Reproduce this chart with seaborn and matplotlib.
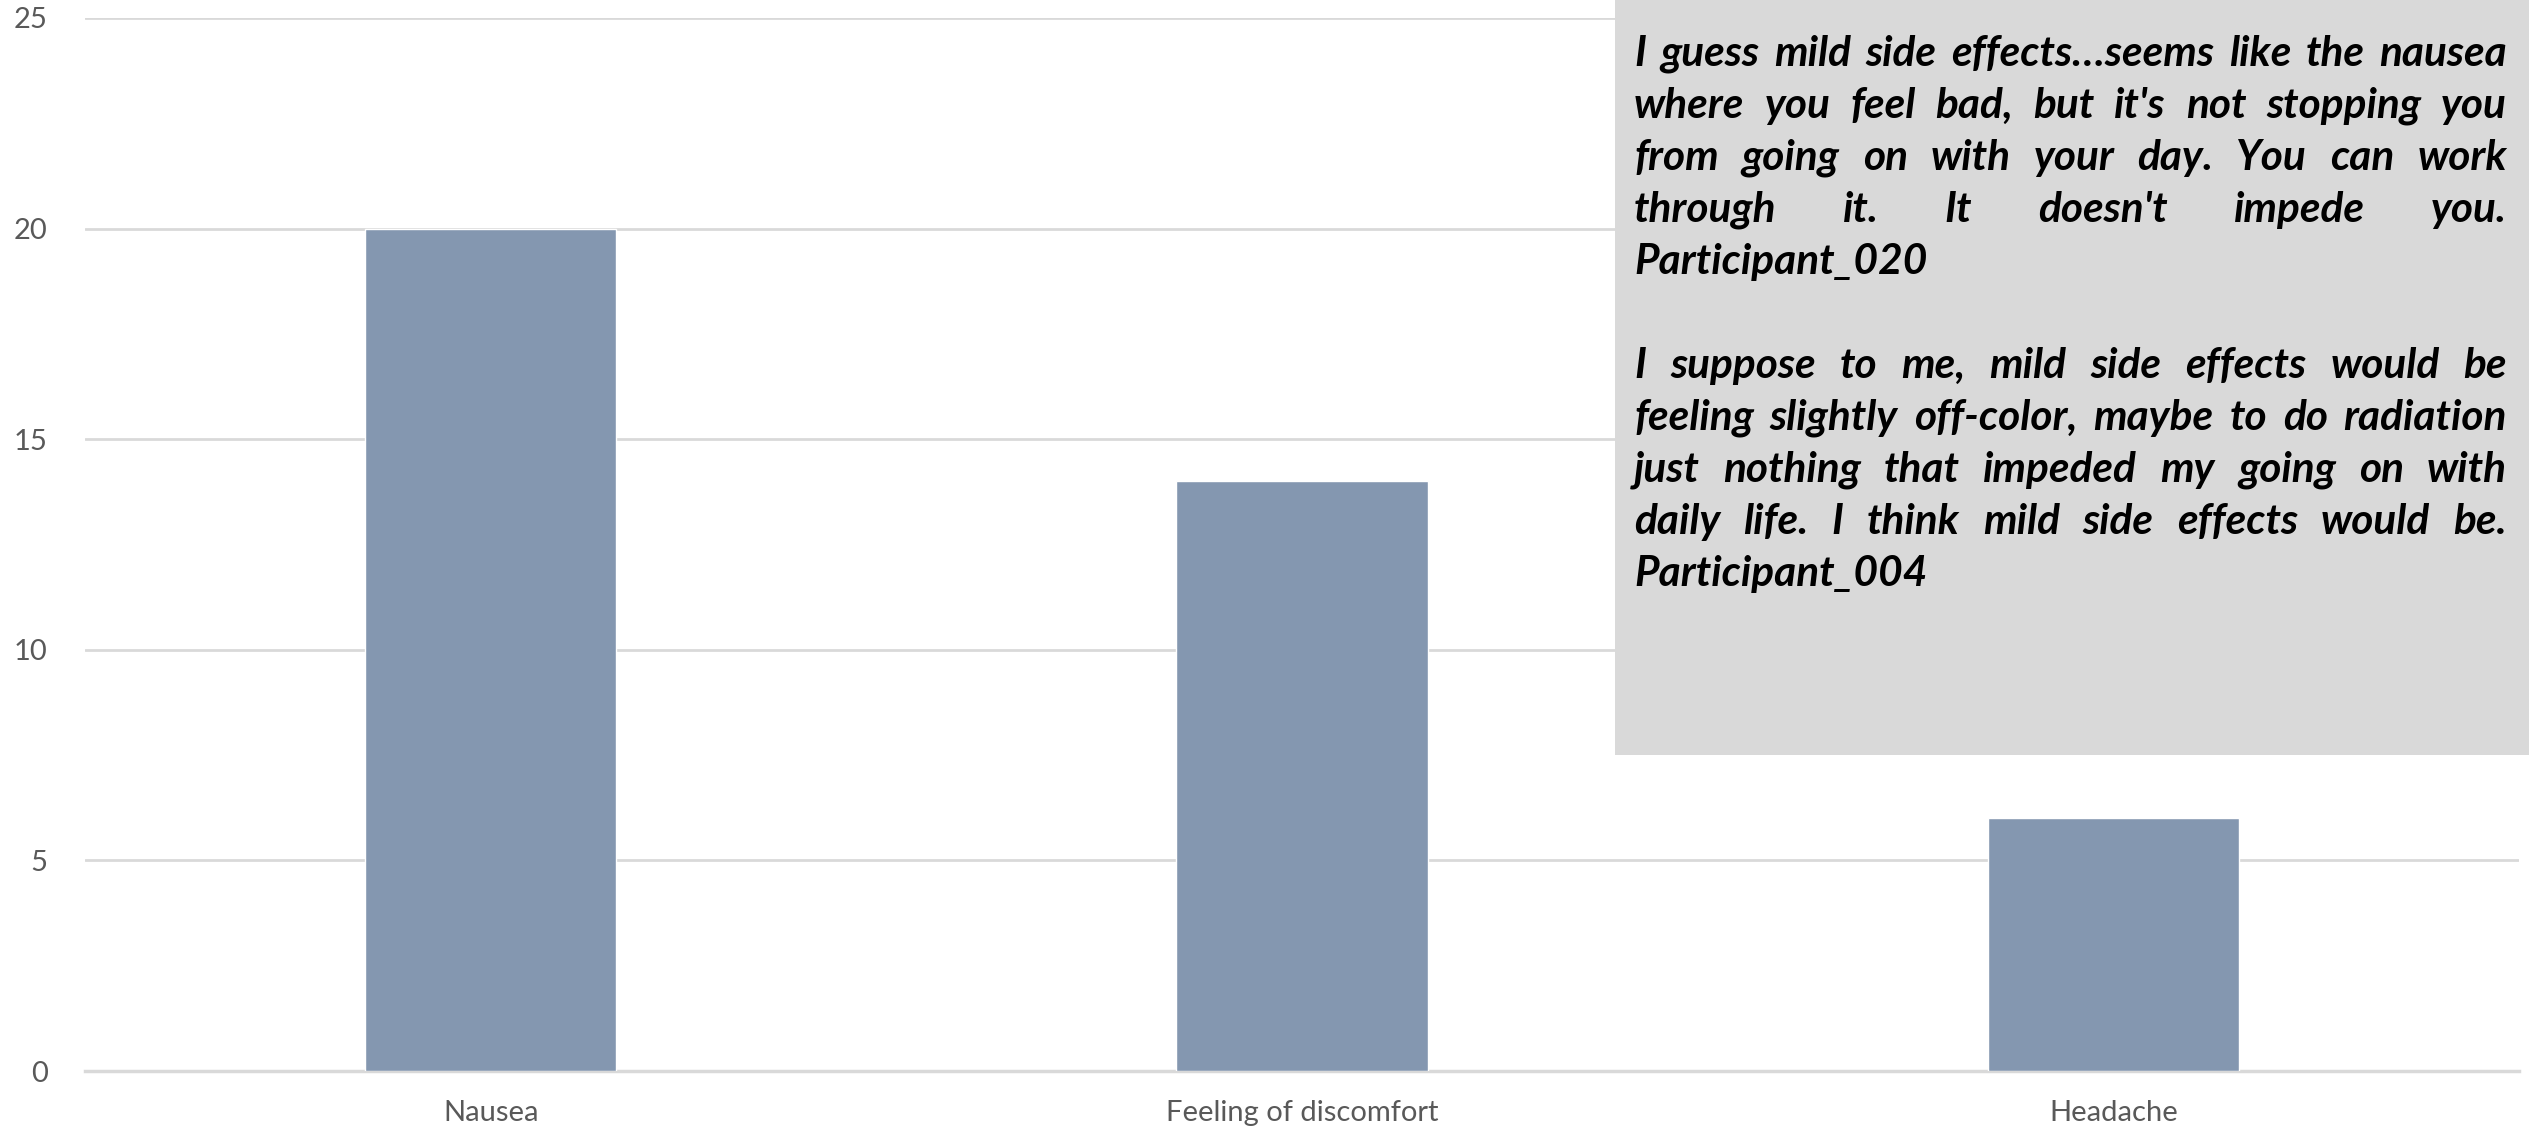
import matplotlib
matplotlib.use("Agg")
import matplotlib.pyplot as plt
from matplotlib.patches import Rectangle
import seaborn as sns
import pandas as pd

# Reported mild side effects
categories = ["Nausea", "Feeling of discomfort", "Headache"]
counts = [20, 14, 6]
y_ticks = [0, 5, 10, 15, 20, 25]

quote_lines = [
    ["I guess mild side effects\u2026seems like the nausea",
     "where you feel bad, but it's not stopping you",
     "from going on with your day. You can work",
     "through it. It doesn't impede you.",
     "Participant_020"],
    ["I suppose to me, mild side effects would be",
     "feeling slightly off-color, maybe to do radiation",
     "just nothing that impeded my going on with",
     "daily life. I think mild side effects would be.",
     "Participant_004"],
]

BAR = "#8497B0"
GRID = "#D9D9D9"
TICK = "#595959"

sns.set_theme(style="white")
plt.rcParams["font.family"] = ["Lato", "DejaVu Sans"]

W, H, DPI = 2529, 1127, 100
fig = plt.figure(figsize=(W / DPI, H / DPI), dpi=DPI)
ax = fig.add_axes([85 / W, 1 - 1071 / H, (2519 - 85) / W, (1071 - 18) / H])

df = pd.DataFrame({"category": categories, "count": counts})
sns.barplot(data=df, x="category", y="count", color=BAR, width=0.31,
            saturation=1, ax=ax, zorder=3)

ax.set_xlim(-0.5, len(categories) - 0.5)
ax.set_ylim(0, 25)
ax.set_yticks(y_ticks)
ax.set_yticklabels([str(t) for t in y_ticks])
ax.set_xlabel("")
ax.set_ylabel("")
ax.grid(axis="y", color=GRID, linewidth=2, zorder=0)
ax.grid(axis="x", visible=False)
for side in ["top", "right", "left"]:
    ax.spines[side].set_visible(False)
ax.spines["bottom"].set_color(GRID)
ax.spines["bottom"].set_linewidth(2.5)
ax.tick_params(axis="both", length=0, labelcolor=TICK, labelsize=21)
ax.tick_params(axis="y", pad=27)
ax.tick_params(axis="x", pad=21)

# Quote box in the upper right corner
box_left, box_bottom = 1615, 755
fig.patches.append(Rectangle((box_left / W, 1 - box_bottom / H),
                             1 - box_left / W, box_bottom / H,
                             transform=fig.transFigure, facecolor=GRID,
                             edgecolor="none", zorder=5))

renderer = fig.canvas.get_renderer()
text_left, text_right = 1634, 2507
line_step = 52
first_line_y = 54
fs = 30.5
font = dict(fontsize=fs, fontweight="bold", fontstyle="italic", color="black",
            va="center", ha="left", transform=None, zorder=6)


def word_width(word):
    t = fig.text(0, 0, word, **font)
    w = t.get_window_extent(renderer).width
    t.remove()
    return w


space_w = word_width("a a") - word_width("aa")
y = first_line_y
for para in quote_lines:
    for i, line in enumerate(para):
        words = line.split(" ")
        widths = [word_width(w) for w in words]
        last = (i == len(para) - 1)
        if last or len(words) == 1:
            gap = space_w
        else:
            gap = (text_right - text_left - sum(widths)) / (len(words) - 1)
        x = text_left
        for w, wd in zip(words, widths):
            fig.text(x, H - y, w, **font)
            x += wd + gap
        y += line_step
    y += line_step

fig.savefig("out.png", dpi=DPI)
